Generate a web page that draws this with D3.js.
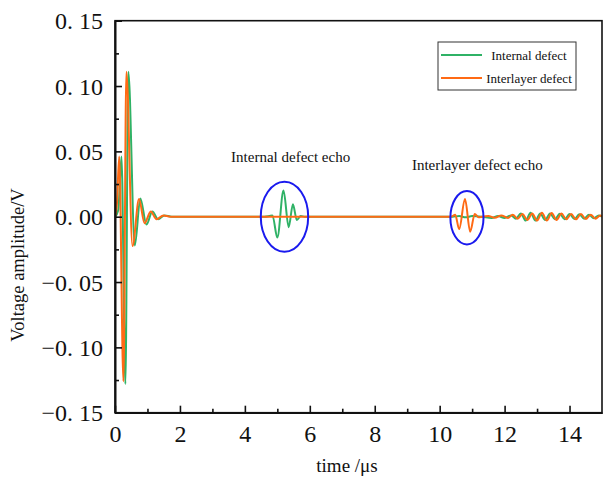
<!DOCTYPE html>
<html>
<head>
<meta charset="utf-8">
<script src="https://cdn.jsdelivr.net/npm/d3@7"></script>
<style>
body{margin:0;background:#fff;}
text{font-family:"Liberation Serif","DejaVu Serif",serif;}
</style>
</head>
<body>
<script>
// hand read waveforms: [time us, voltage V]
var internalWave=[[0,0],[0.1,0.005],[0.2,0.046],[0.32,-0.128],[0.41,0.111],[0.61,-0.022],[0.78,0.014],[0.97,-0.006],[1.15,0.004],[1.33,-0.002],[1.52,0.001],[1.75,0],[2.5,0],[4.6,0],[4.75,0.0005],[4.85,0.001],[5.0,-0.016],[5.19,0.02],[5.35,-0.008],[5.48,0.0095],[5.6,-0.0025],[5.72,0.0005],[5.85,0],[10.4,0],[10.6,0.0005],[10.8,-0.0005],[11.0,0.0005],[11.3,0],[11.6,-0.001],[11.8,0.0005],[12.0,-0.001],[12.2,0.001],[12.35,-0.0015],[12.5,0.0025],[12.65,-0.003],[12.8,0.003],[12.95,-0.003],[13.1,0.0025],[13.25,-0.0025],[13.4,0.0025],[13.55,-0.002],[13.7,0.0022],[13.85,-0.002],[14.0,0.002],[14.15,-0.0018],[14.3,0.0018],[14.45,-0.0015],[14.6,0.0015],[14.75,-0.0012],[14.9,0.001],[15,0]];
var interlayerWave=[[0,0],[0.06,0.01],[0.13,0.046],[0.26,-0.126],[0.35,0.111],[0.54,-0.0225],[0.74,0.0135],[0.91,-0.005],[1.1,0.004],[1.28,-0.002],[1.49,0.001],[1.7,0],[2.5,0],[10.35,0],[10.48,0.0015],[10.6,-0.0095],[10.78,0.0135],[10.94,-0.0115],[11.08,0.002],[11.2,-0.0005],[11.3,0],[11.5,0.0005],[11.7,-0.0008],[11.9,0.001],[12.1,-0.001],[12.25,0.0015],[12.4,-0.0015],[12.55,0.002],[12.7,-0.0025],[12.85,0.0025],[13.0,-0.003],[13.15,0.003],[13.3,-0.003],[13.45,0.0028],[13.6,-0.0025],[13.75,0.0025],[13.9,-0.002],[14.05,0.002],[14.2,-0.002],[14.35,0.002],[14.5,-0.0018],[14.65,0.0015],[14.8,-0.0015],[14.95,0.001],[15,0]];
var seriesNames=["Internal defect","Interlayer defect"];
var xTicks=[0,2,4,6,8,10,12,14];
var xMinor=[1,3,5,7,9,11,13];
var yTicks=[-0.15,-0.10,-0.05,0,0.05,0.10,0.15];
var yMinor=[-0.125,-0.075,-0.025,0.025,0.075,0.125];
// echo marks: centre time, centre volt, half width (us), half height (V)
var echoRings=[[5.22,0,0.73,0.0268],[10.84,-0.0008,0.51,0.0204]];
var echoLabels=[["Internal defect echo",5.41,0.0457],["Interlayer defect echo",11.16,0.0396]];

var W=603,H=481;
var pl=115,pr=602,pt=20.7,pb=412.7;
var green="#2fb266",orange="#ff6a14";

var svg=d3.select("body").append("svg").attr("width",W).attr("height",H);

var x=d3.scaleLinear().domain([0,15]).range([pl,pr]);
var y=d3.scaleLinear().domain([-0.15,0.15]).range([pb,pt]);

svg.append("defs").append("clipPath").attr("id","plotclip")
.append("rect").attr("x",pl).attr("y",pt).attr("width",pr-pl).attr("height",pb-pt);

var line=d3.line().x(function(d){return x(d[0]);}).y(function(d){return y(d[1]);}).curve(d3.curveMonotoneX);

var g=svg.append("g").attr("clip-path","url(#plotclip)");
g.append("path").datum(internalWave).attr("d",line).attr("fill","none").attr("stroke",green).attr("stroke-width",2);
g.append("path").datum(interlayerWave).attr("d",line).attr("fill","none").attr("stroke",orange).attr("stroke-width",2);

svg.selectAll(".ring").data(echoRings).enter().append("ellipse")
.attr("cx",function(d){return x(d[0]);})
.attr("cy",function(d){return y(d[1]);})
.attr("rx",function(d){return x(d[2])-x(0);})
.attr("ry",function(d){return y(0)-y(d[3]);})
.attr("fill","none").attr("stroke","#1a1aee").attr("stroke-width",2);

svg.selectAll(".elab").data(echoLabels).enter().append("text")
.attr("x",function(d){return x(d[1]);})
.attr("y",function(d){return y(d[2]);})
.attr("text-anchor","middle").attr("dominant-baseline","central")
.attr("font-size",15).attr("fill","#111")
.text(function(d){return d[0];});

// frame
svg.append("rect").attr("x",pl).attr("y",pt).attr("width",pr-pl).attr("height",pb-pt)
.attr("fill","none").attr("stroke","#111").attr("stroke-width",1.6);

function yfmt(v){
	var s=d3.format(".2f")(Math.abs(v)).replace(".",". ");
	return (v<-1e-9?"\u2212":"")+s;
}

var xa=svg.append("g").attr("transform","translate(0,"+pb+")")
.call(d3.axisBottom(x).tickValues(xTicks).tickSizeInner(-7).tickSizeOuter(0).tickPadding(12).tickFormat(d3.format("d")));
svg.append("g").attr("transform","translate(0,"+pb+")")
.call(d3.axisBottom(x).tickValues(xMinor).tickSizeInner(-4).tickSizeOuter(0).tickFormat(""));
var ya=svg.append("g").attr("transform","translate("+pl+",0)")
.call(d3.axisLeft(y).tickValues(yTicks).tickSizeInner(-7).tickSizeOuter(0).tickPadding(12).tickFormat(yfmt));
svg.append("g").attr("transform","translate("+pl+",0)")
.call(d3.axisLeft(y).tickValues(yMinor).tickSizeInner(-4).tickSizeOuter(0).tickFormat(""));

svg.selectAll(".domain").attr("stroke","#111").attr("stroke-width",1.6);
svg.selectAll(".tick line").attr("stroke","#111").attr("stroke-width",1.6);
xa.selectAll("text").attr("font-family","Liberation Serif").attr("font-size",24).attr("fill","#111");
ya.selectAll("text").attr("font-family","Liberation Serif").attr("font-size",24).attr("fill","#111").attr("dy","0.34em");

svg.append("text").attr("x",347).attr("y",472).attr("text-anchor","middle")
.attr("font-size",19).attr("fill","#111").text("time /\u03bcs");
svg.append("text").attr("transform","translate(24,265) rotate(-90)").attr("text-anchor","middle")
.attr("font-size",18.5).attr("fill","#111").text("Voltage amplitude/V");

// legend
var lg=svg.append("g");
lg.append("rect").attr("x",438).attr("y",42).attr("width",138).attr("height",48)
.attr("fill","#fff").attr("stroke","#333").attr("stroke-width",1);
var colors=[green,orange];
lg.selectAll(".li").data(seriesNames).enter().append("line")
.attr("x1",441).attr("x2",482)
.attr("y1",function(d,i){return 55+i*23;}).attr("y2",function(d,i){return 55+i*23;})
.attr("stroke",function(d,i){return colors[i];}).attr("stroke-width",2);
lg.selectAll(".lt").data(seriesNames).enter().append("text")
.attr("x",529).attr("y",function(d,i){return 55+i*23;})
.attr("text-anchor","middle").attr("dominant-baseline","central")
.attr("font-size",13).attr("fill","#111").text(function(d){return d;});
</script>
</body>
</html>
